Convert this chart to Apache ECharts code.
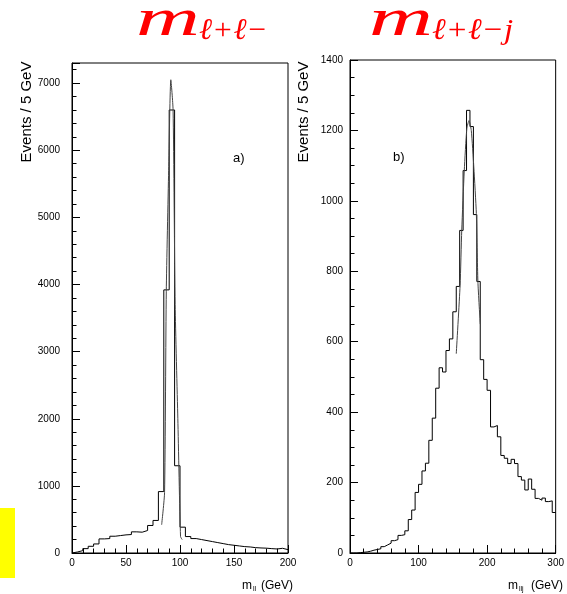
<!DOCTYPE html>
<html>
<head>
<meta charset="utf-8">
<script src="https://cdn.jsdelivr.net/npm/echarts@6/dist/echarts.min.js"></script>
<style>html,body{margin:0;padding:0;background:#fff;}#c{width:567px;height:594px;}</style>
</head>
<body>
<div id="c"></div>
<script>
// Left panel: m_ll histogram, 5 GeV bins from 0 to 200
const leftBinWidth = 5;
const leftVals = [15, 35, 65, 100, 135, 210, 215, 250, 260, 270, 275, 315, 310, 335, 410, 485, 915, 3920, 6600, 1300,
                  385, 245, 215, 200, 185, 170, 155, 140, 125, 115, 105, 95, 90, 80, 75, 72, 65, 60, 70, 50];
// Left fit curve
const leftFitX = [83, 85.7, 87.3, 89.5, 91.5, 93.6, 95.5, 98, 100.5, 102];
const leftFitY = [420, 900, 3900, 5700, 7050, 6600, 3700, 2000, 245, 200];

// Right panel: m_llj histogram, 5 GeV bins from 0 to 300
const rightBinWidth = 5;
const rightVals = [0, 0, 1, 2, 3, 5, 8, 10, 12, 18, 23, 28, 35, 38, 50, 52, 63, 95, 122, 172,
                   195, 233, 255, 320, 383, 468, 526, 514, 575, 608, 685, 757, 916, 1086, 1257, 1211, 961, 771, 549, 493,
                   462, 358, 362, 330, 277, 269, 254, 266, 254, 217, 207, 179, 210, 181, 155, 150, 156, 146, 148, 115];
const rightFitX = [155, 160.6, 163, 166.7, 170.4, 173.6, 176.9, 180.6, 184.3, 186.6, 190];
const rightFitY = [566, 760, 916, 1086, 1205, 1228, 1200, 1096, 964, 770, 650];

// Axis tick settings
const leftXTicks = {min: 0, max: 200, interval: 50, minorSplit: 5};
const leftYTicks = {min: 0, max: 7300, interval: 1000, minorSplit: 5};
const rightXTicks = {min: 0, max: 300, interval: 100, minorSplit: 5};
const rightYTicks = {min: 0, max: 1400, interval: 200, minorSplit: 4};

function histPoints(vals, w) {
  const pts = [[0, 0]];
  vals.forEach((v, i) => pts.push([i * w, v]));
  pts.push([vals.length * w, vals[vals.length - 1]]);
  return pts;
}
function zip(xs, ys) { return xs.map((x, i) => [x, ys[i]]); }

const FONT = '"Liberation Sans", Arial, sans-serif';
const SERIF = '"Liberation Serif", serif';
function xAx(idx, t, labelMargin) {
  return {
    type: 'value', gridIndex: idx, min: t.min, max: t.max, interval: t.interval,
    axisLine: {lineStyle: {color: '#000', width: 1}},
    axisTick: {inside: true, length: 8, lineStyle: {color: '#000'}},
    minorTick: {show: true, splitNumber: t.minorSplit, length: 4.5, lineStyle: {color: '#000'}},
    splitLine: {show: false},
    axisLabel: {color: '#000', fontSize: 10, fontFamily: FONT, margin: labelMargin,
      showMaxLabel: true, alignMinLabel: 'center', alignMaxLabel: 'center'}
  };
}
function yAx(idx, t, labelMargin) {
  return {
    type: 'value', gridIndex: idx, min: t.min, max: t.max, interval: t.interval,
    axisLine: {show: true, lineStyle: {color: '#000', width: 1}},
    axisTick: {show: true, inside: true, length: 8, lineStyle: {color: '#000'}},
    minorTick: {show: true, splitNumber: t.minorSplit, length: 4.5, lineStyle: {color: '#000'}},
    splitLine: {show: false},
    axisLabel: {color: '#000', fontSize: 10, fontFamily: FONT, margin: labelMargin,
      formatter: v => (v % t.interval === 0 ? String(v) : '')}
  };
}

const chart = echarts.init(document.getElementById('c'), null, {renderer: 'canvas'});
chart.setOption({
  backgroundColor: '#fff',
  animation: false,
  grid: [
    {left: 72, top: 63, width: 216, height: 490, show: true, borderColor: '#000', borderWidth: 1, backgroundColor: 'transparent'},
    {left: 350, top: 60, width: 216, height: 493, show: true, borderColor: '#000', borderWidth: 1, backgroundColor: 'transparent'}
  ],
  xAxis: [xAx(0, leftXTicks, 5), xAx(1, rightXTicks, 5)],
  yAxis: [yAx(0, leftYTicks, 12), yAx(1, rightYTicks, 7)],
  series: [
    {type: 'line', xAxisIndex: 0, yAxisIndex: 0, step: 'end', symbol: 'none',
     lineStyle: {color: '#000', width: 1}, data: histPoints(leftVals, leftBinWidth)},
    {type: 'line', xAxisIndex: 0, yAxisIndex: 0, symbol: 'none', smooth: 0.2,
     lineStyle: {color: '#444', width: 1}, data: zip(leftFitX, leftFitY)},
    {type: 'line', xAxisIndex: 1, yAxisIndex: 1, step: 'end', symbol: 'none',
     lineStyle: {color: '#000', width: 1}, data: histPoints(rightVals, rightBinWidth)},
    {type: 'line', xAxisIndex: 1, yAxisIndex: 1, symbol: 'none', smooth: 0.2,
     lineStyle: {color: '#444', width: 1}, data: zip(rightFitX, rightFitY)}
  ],
  graphic: [
    {type: 'rect', shape: {x: 0, y: 508, width: 15, height: 70}, style: {fill: '#ffff00'}},
    {type: 'text', x: 27, y: 112, rotation: Math.PI / 2,
     style: {text: 'Events / 5 GeV', fontSize: 15, fontFamily: FONT, fill: '#000', align: 'center', verticalAlign: 'middle'}},
    {type: 'text', x: 304, y: 112, rotation: Math.PI / 2,
     style: {text: 'Events / 5 GeV', fontSize: 15, fontFamily: FONT, fill: '#000', align: 'center', verticalAlign: 'middle'}},
    {type: 'text', x: 233, y: 158, style: {text: 'a)', fontSize: 13, fontFamily: FONT, fill: '#000', verticalAlign: 'middle'}},
    {type: 'text', x: 393, y: 157, style: {text: 'b)', fontSize: 13, fontFamily: FONT, fill: '#000', verticalAlign: 'middle'}},
    // x-axis names
    {type: 'text', x: 242, y: 586, style: {text: 'm', fontSize: 12, fontFamily: FONT, fill: '#000', verticalAlign: 'middle'}},
    {type: 'text', x: 253, y: 589, style: {text: 'll', fontSize: 7, fontFamily: FONT, fill: '#000', verticalAlign: 'middle'}},
    {type: 'text', x: 261, y: 586, style: {text: '(GeV)', fontSize: 12, fontFamily: FONT, fill: '#000', verticalAlign: 'middle'}},
    {type: 'text', x: 508, y: 586, style: {text: 'm', fontSize: 12, fontFamily: FONT, fill: '#000', verticalAlign: 'middle'}},
    {type: 'text', x: 519, y: 589, style: {text: 'llj', fontSize: 7, fontFamily: FONT, fill: '#000', verticalAlign: 'middle'}},
    {type: 'text', x: 531, y: 586, style: {text: '(GeV)', fontSize: 12, fontFamily: FONT, fill: '#000', verticalAlign: 'middle'}},
    // titles
    {type: 'text', x: 136, y: -5, scaleX: 1.7,
     style: {text: 'm', fontSize: 52, fontStyle: 'italic', fontFamily: SERIF, fill: '#ff0000', verticalAlign: 'top'}},
    {type: 'text', x: 199, y: 16, scaleX: 1.05,
     style: {text: 'ℓ+ℓ−', fontSize: 30, fontStyle: 'italic', fontFamily: SERIF, fill: '#ff0000', verticalAlign: 'top'}},
    {type: 'text', x: 369, y: -5, scaleX: 1.7,
     style: {text: 'm', fontSize: 52, fontStyle: 'italic', fontFamily: SERIF, fill: '#ff0000', verticalAlign: 'top'}},
    {type: 'text', x: 432, y: 16, scaleX: 1.1,
     style: {text: 'ℓ+ℓ−j', fontSize: 30, fontStyle: 'italic', fontFamily: SERIF, fill: '#ff0000', verticalAlign: 'top'}}
  ]
});
</script>
</body>
</html>
